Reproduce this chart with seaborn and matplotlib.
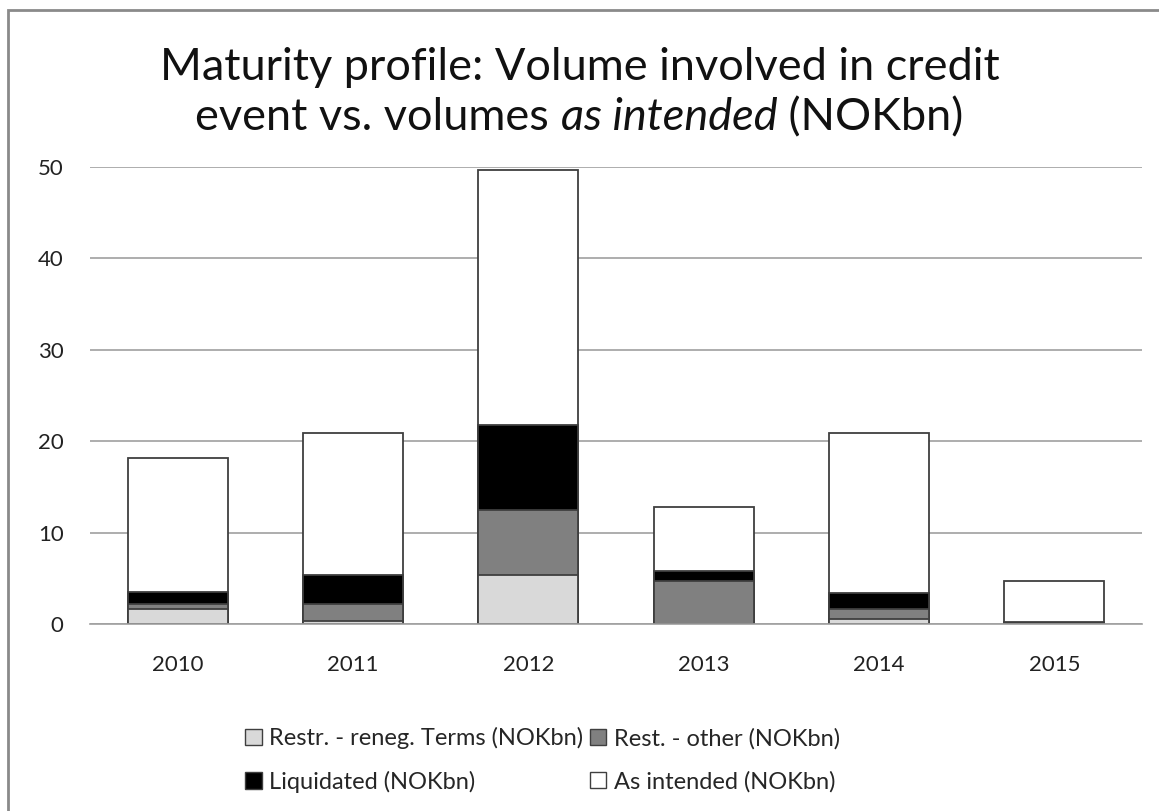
import matplotlib
matplotlib.use("Agg")
import matplotlib.pyplot as plt
from matplotlib.patches import Patch, Rectangle
import seaborn as sns
import numpy as np
import pandas as pd

# values (NOKbn)
years = ["2010", "2011", "2012", "2013", "2014", "2015"]
restr_reneg = [1.6, 0.35, 5.4, 0.0, 0.55, 0.05]
rest_other = [0.6, 1.85, 7.1, 4.7, 1.05, 0.1]
liquidated = [1.25, 3.2, 9.3, 1.1, 1.8, 0.1]
as_intended = [14.75, 15.45, 27.9, 7.0, 17.5, 4.5]

labels = ["Restr. - reneg. Terms (NOKbn)", "Rest. - other (NOKbn)",
          "Liquidated (NOKbn)", "As intended (NOKbn)"]
colors = ["#d9d9d9", "#808080", "#000000", "#ffffff"]

sns.set_theme(style="white")
plt.rcParams['font.family'] = ['Lato', 'DejaVu Sans']

df = pd.DataFrame({"year": years,
                   labels[0]: restr_reneg, labels[1]: rest_other,
                   labels[2]: liquidated, labels[3]: as_intended})
cum = df[labels].cumsum(axis=1)

W, H = 1159, 811
fig = plt.figure(figsize=(W / 100, H / 100), dpi=100)
ax = fig.add_axes([90 / W, 187 / H, 1052 / W, 457 / H])

# draw cumulative stacks from the tallest down so each segment shows
for lab, col in reversed(list(zip(labels, colors))):
    sns.barplot(x=df["year"], y=cum[lab], color=col, width=0.57,
                edgecolor="#3f3f3f", linewidth=1.3, saturation=1, ax=ax)

ax.set_ylim(0, 50)
ax.set_yticks([0, 10, 20, 30, 40, 50])
ax.yaxis.grid(True, color="#a0a0a0", linewidth=1.2)
ax.set_axisbelow(True)
for s in ["left", "right", "top"]:
    ax.spines[s].set_visible(False)
ax.spines["bottom"].set_color("#a0a0a0")
ax.spines["bottom"].set_linewidth(1.2)
ax.set_xlabel("")
ax.set_ylabel("")
ax.tick_params(axis="both", length=0, labelsize=16, colors="#222222")
ax.tick_params(axis="y", pad=19)
ax.tick_params(axis="x", pad=22)

# title, with "as intended" in italics on line 2
tsize = 32.5
tcol = "#111111"
fig.text(0.5, 1 - 67 / H, "Maturity profile: Volume involved in credit",
         ha="center", va="center", fontsize=tsize, color=tcol)
parts = [("event vs. volumes ", "normal"), ("as intended", "italic"),
         (" (NOKbn)", "normal")]
renderer = fig.canvas.get_renderer()
texts = []
for s, st in parts:
    t = fig.text(0, 1 - 118 / H, s, ha="left", va="center", fontsize=tsize,
                 color=tcol, style=st)
    texts.append(t)
widths = [t.get_window_extent(renderer).width for t in texts]
x = (W - sum(widths)) / 2
for t, w in zip(texts, widths):
    t.set_x(x / W)
    x += w

handles = [Patch(facecolor=c, edgecolor="#3f3f3f", linewidth=1.0) for c in colors]
order = [0, 2, 1, 3]
fig.legend([handles[i] for i in order], [labels[i] for i in order],
           ncol=2, loc="center", bbox_to_anchor=(0.468, 1 - 760 / H),
           frameon=False, fontsize=17, handlelength=0.7, handleheight=0.7,
           handletextpad=0.3, columnspacing=0.3, labelspacing=0.9)

fig.patches.append(Rectangle((8 / W, -0.1), 1.2, 1 + 0.1 - 10 / H,
                             transform=fig.transFigure, fill=False,
                             edgecolor="#8a8a8a", linewidth=2))

fig.savefig("out.png", dpi=100, facecolor="white")
